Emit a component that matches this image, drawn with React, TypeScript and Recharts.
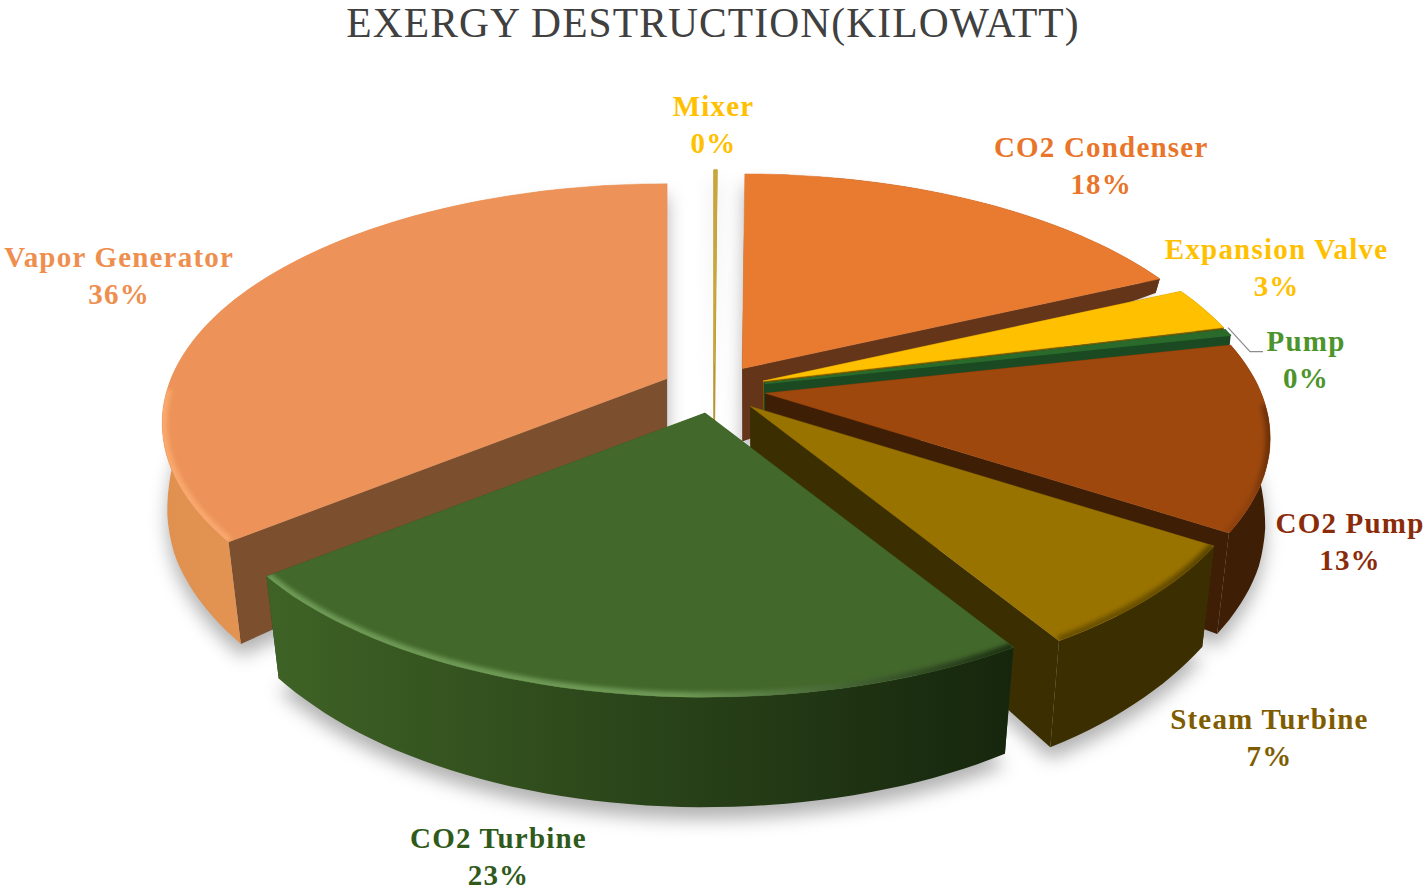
import { Pie, PieChart } from "recharts"

// drawn back to front, so the pie starts at Vapor Generator and ends at CO2 Turbine
const names = ["Vapor Generator", "Mixer", "CO2 Condenser", "Expansion Valve", "Pump", "CO2 Pump", "Steam Turbine", "CO2 Turbine"]
const values = [35.7, 0.1, 18, 3, 0.4, 12.6, 7.1, 23]

const topColors = ["#ED9359", "#C9A63C", "#E97B30", "#FFC000", "#2A6B2C", "#9E480E", "#997300", "#43682B"]
const wallLeft = ["#E0904F", "#B8962F", "#65351A", "#6B5000", "#1B4A22", "#3E1E05", "#3B2E00", "#3F6326"]
const wallRight = ["#F0A060", "#B8962F", "#65351A", "#6B5000", "#1B4A22", "#3E1E05", "#3B2E00", "#16260D"]
const sideColors = ["#7C4F2E", "#B8962F", "#65351A", "#7A5C00", "#1B4A22", "#3E1E05", "#3B2E00", "#26401A"]
const rimLeft = ["#F9A86E", "#C9A63C", "#E97B30", "#FFC000", "#2A6B2C", "#8F420D", "#6A5000", "#6E9A56"]
const rimRight = ["#F9A86E", "#C9A63C", "#DB6C22", "#FFC000", "#2A6B2C", "#6A3008", "#5A4400", "#1C2F12"]
const labelColors = ["#EE8F50", "#FFC000", "#E8752A", "#FFC000", "#4C942B", "#8A2C0A", "#7F5C00", "#2F5A1B"]
const labelNudges = [[-106, -3], [-2, -37], [116, -27], [40, -35], [41, 31], [26, 102], [60, 113], [-84, 117]]

const title = "EXERGY DESTRUCTION(KILOWATT)"

const total = values.reduce((a, b) => a + b, 0)
const firstAngle = 90 + (values[0] / total) * 360
const tableData = names.map((name, i) => ({ name, value: values[i], index: i }))

// perspective of the tilted disc
const TILT = 0.187
const FLAT = 0.466
const EXPLODE = 0.105
const depthStops = [[-1, 0], [-0.42, 14], [0, 73], [0.3, 98], [0.7, 103], [1, 110]]

const depthAt = (v: number) => {
  for (let i = 1; i < depthStops.length; i++) {
    const [v0, d0] = depthStops[i - 1]
    const [v1, d1] = depthStops[i]
    if (v <= v1) return d0 + ((Math.max(v, v0) - v0) / (v1 - v0)) * (d1 - d0)
  }
  return depthStops[depthStops.length - 1][1]
}

const project = (cx: number, cy: number, r: number, u: number, v: number) => {
  const w = 1 - TILT * v
  return [cx + (r * u) / w, cy + (r * FLAT * v) / w]
}

const lowered = (cx: number, cy: number, r: number, u: number, v: number) => {
  const [x, y] = project(cx, cy, r, u, v)
  const t = Math.min(1, Math.max(0, (v - 0.2) / 0.4))
  const inward = 0.99 - 0.018 * t
  return [cx + (x - cx) * inward, y + depthAt(v)]
}

const toPath = (pts: number[][], close = true) =>
  pts.map((p, i) => `${i ? "L" : "M"}${p[0].toFixed(1)} ${p[1].toFixed(1)}`).join(" ") + (close ? " Z" : "")

// disc coordinates of a slice's outer arc, plus the screen shift along its mid angle
const sliceGeometry = (props: any) => {
  const { outerRadius: r } = props
  const a0 = ((90 - props.startAngle) * Math.PI) / 180
  const a1 = ((90 - props.endAngle) * Math.PI) / 180
  const mid = (a0 + a1) / 2
  const shift = `translate(${(EXPLODE * r * Math.sin(mid)).toFixed(1)} ${(-EXPLODE * r * FLAT * Math.cos(mid)).toFixed(1)})`
  const steps = Math.max(2, Math.ceil((a1 - a0) / 0.03))
  const arc: number[][] = []
  for (let i = 0; i <= steps; i++) {
    const t = a0 + ((a1 - a0) * i) / steps
    arc.push([Math.sin(t), -Math.cos(t)])
  }
  return { apex: [0, 0], arc, shift }
}

const SliceShadow = (props: any) => {
  const { cx, cy, outerRadius: r } = props
  const { apex, arc, shift } = sliceGeometry(props)
  const pts = [apex, ...arc].map(([u, v]) => lowered(cx, cy, r, u, v))
  return (
    <g transform={shift}>
      <path
        d={toPath(pts)}
        transform="translate(0 12)"
        fill="rgba(0,0,0,0.3)"
        style={{ filter: "blur(9px)" }}
      />
    </g>
  )
}

const Slice3D = (props: any) => {
  const { cx, cy, outerRadius: r, payload } = props
  const i = payload.index
  const { apex, arc, shift } = sliceGeometry(props)
  const top = (p: number[]) => project(cx, cy, r, p[0], p[1])
  const low = (p: number[]) => lowered(cx, cy, r, p[0], p[1])
  const topArc = arc.map(top)
  const lowArc = arc.map(low)
  const frontArc = arc.filter((p) => p[1] > 0.02).map(top)
  const xs = topArc.map((p) => p[0])
  const x0 = Math.min(...xs)
  const x1 = Math.max(...xs)
  const first = arc[0]
  const last = arc[arc.length - 1]
  const wallId = `wall-${i}`
  const rimId = `rim-${i}`
  const clipId = `top-${i}`
  const thin = values[i] < 1
  const topPath = toPath([top(apex), ...topArc])
  return (
    <g transform={shift}>
      <defs>
        <linearGradient id={wallId} gradientUnits="userSpaceOnUse" x1={x0} x2={x1} y1={0} y2={0}>
          <stop offset="0%" stopColor={wallLeft[i]} />
          <stop offset="100%" stopColor={wallRight[i]} />
        </linearGradient>
        <linearGradient id={rimId} gradientUnits="userSpaceOnUse" x1={x0} x2={x1} y1={0} y2={0}>
          <stop offset="0%" stopColor={rimLeft[i]} />
          <stop offset="55%" stopColor={rimLeft[i]} />
          <stop offset="100%" stopColor={rimRight[i]} />
        </linearGradient>
        <clipPath id={clipId}>
          <path d={topPath} />
        </clipPath>
      </defs>
      <path d={toPath([top(apex), top(first), low(first), low(apex)])} fill={sideColors[i]} stroke={sideColors[i]} strokeWidth={thin ? 1.5 : 0} />
      <path d={toPath([top(apex), top(last), low(last), low(apex)])} fill={sideColors[i]} stroke={sideColors[i]} strokeWidth={thin ? 1.5 : 0} />
      <path d={toPath([...topArc, ...[...lowArc].reverse()])} fill={`url(#${wallId})`} />
      <path d={topPath} fill={topColors[i]} stroke={topColors[i]} strokeWidth={thin ? 1.5 : 0.5} />
      {!thin && frontArc.length > 1 && (
        <g clipPath={`url(#${clipId})`}>
          <path
            d={toPath(frontArc, false)}
            fill="none"
            stroke={`url(#${rimId})`}
            strokeWidth={10}
            style={{ filter: "blur(2px)" }}
          />
        </g>
      )}
    </g>
  )
}

const SliceLabel = (props: any) => {
  const { cx, cy, outerRadius: r, midAngle, payload } = props
  const i = payload.index
  const a = ((90 - midAngle) * Math.PI) / 180
  const [x0, y0] = project(cx, cy, r, 1.2 * Math.sin(a), -1.2 * Math.cos(a))
  const x = x0 + labelNudges[i][0]
  const y = y0 + labelNudges[i][1]
  const pct = `${Math.round((values[i] / total) * 100)}%`
  return (
    <g>
      {payload.name === "Pump" && (
        <polyline points={`${x - 78},${y - 32} ${x - 56},${y - 8} ${x - 43},${y - 8}`} fill="none" stroke="#8c8c8c" strokeWidth={1.2} />
      )}
      <text
        x={x}
        y={y}
        textAnchor="middle"
        fill={labelColors[i]}
        fontFamily="Liberation Serif"
        fontWeight="bold"
        fontSize={29}
        letterSpacing={1.2}
      >
        <tspan x={x} dy={-9}>{payload.name}</tspan>
        <tspan x={x} dy={37}>{pct}</tspan>
      </text>
    </g>
  )
}

export default function App() {
  return (
    <div style={{ position: "absolute", left: 0, top: 0, width: 1427, height: 890, background: "#fff" }}>
      <PieChart width={1427} height={890} margin={{ top: 0, right: 0, bottom: 0, left: 0 }}>
        <text x={713} y={37} textAnchor="middle" fill="#404040" fontFamily="Liberation Serif" fontSize={41.5} letterSpacing={1.1}>
          {title}
        </text>
        <Pie
          data={tableData}
          dataKey="value"
          nameKey="name"
          cx={714}
          cy={389}
          outerRadius={496}
          startAngle={firstAngle}
          endAngle={firstAngle - 360}
          stroke="none"
          isAnimationActive={false}
          shape={SliceShadow}
          activeShape={SliceShadow}
          inactiveShape={SliceShadow}
        />
        <Pie
          data={tableData}
          dataKey="value"
          nameKey="name"
          cx={714}
          cy={389}
          outerRadius={496}
          startAngle={firstAngle}
          endAngle={firstAngle - 360}
          stroke="none"
          isAnimationActive={false}
          shape={Slice3D}
          activeShape={Slice3D}
          inactiveShape={Slice3D}
          label={SliceLabel}
          labelLine={false}
        />
      </PieChart>
    </div>
  )
}
